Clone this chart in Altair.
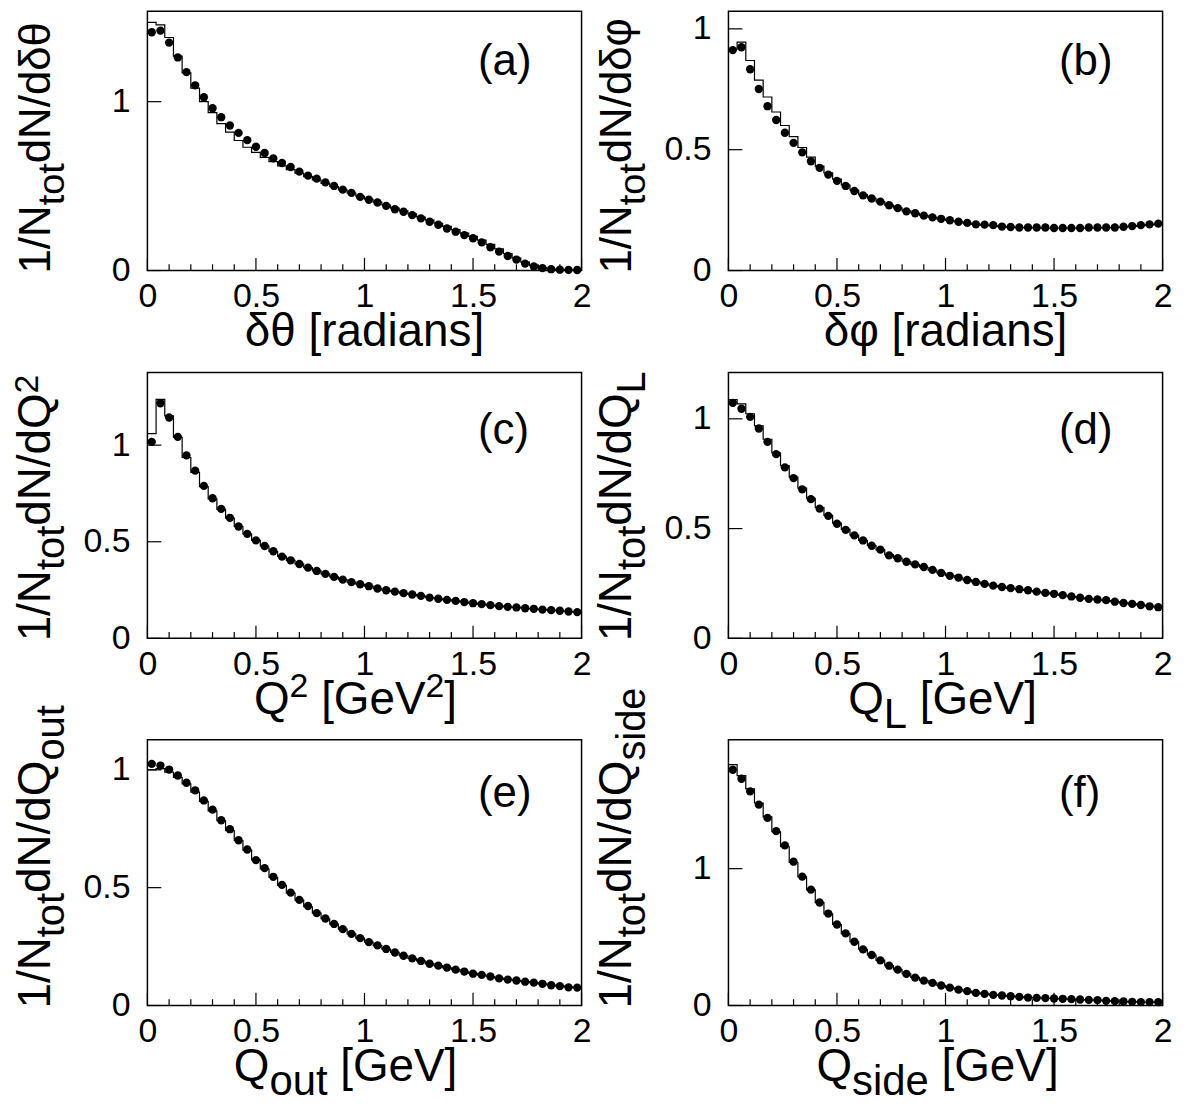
import altair as alt
import pandas as pd

FONT = "Liberation Sans"

# ---------------- binning ----------------
N_BINS = 50
X_MIN, X_MAX = 0.0, 2.0
BIN_W = (X_MAX - X_MIN) / N_BINS
centers = [round(X_MIN + BIN_W * (i + 0.5), 4) for i in range(N_BINS)]
edges = [round(X_MIN + BIN_W * i, 4) for i in range(N_BINS + 1)]

X_MAJOR = [0, 0.5, 1, 1.5, 2]
X_MINOR = [0.1, 0.2, 0.3, 0.4, 0.6, 0.7, 0.8, 0.9, 1.1, 1.2, 1.3, 1.4, 1.6, 1.7, 1.8, 1.9]

# ---------------- data ----------------
a_pts = [1.411, 1.421, 1.350, 1.262, 1.175, 1.097, 1.026, 0.961, 0.908, 0.859,
         0.815, 0.772, 0.733, 0.696, 0.664, 0.637, 0.613, 0.586, 0.562, 0.544,
         0.522, 0.501, 0.479, 0.460, 0.436, 0.419, 0.403, 0.383, 0.363, 0.348,
         0.328, 0.309, 0.289, 0.271, 0.249, 0.230, 0.210, 0.191, 0.167, 0.138,
         0.112, 0.086, 0.065, 0.041, 0.024, 0.014, 0.008, 0.005, 0.004, 0.003]
a_hist = [1.470, 1.455, 1.380, 1.270, 1.170, 1.080, 1.000, 0.935, 0.870, 0.820,
          0.770, 0.730, 0.700, 0.670, 0.645, 0.620, 0.598, 0.577, 0.556, 0.536,
          0.516, 0.497, 0.478, 0.459, 0.440, 0.422, 0.405, 0.388, 0.370, 0.353,
          0.335, 0.317, 0.299, 0.280, 0.261, 0.242, 0.222, 0.202, 0.180, 0.155,
          0.128, 0.100, 0.074, 0.050, 0.030, 0.016, 0.008, 0.004, 0.002, 0.001]

b_pts = [0.912, 0.924, 0.833, 0.751, 0.680, 0.623, 0.570, 0.528, 0.489, 0.452,
         0.425, 0.397, 0.371, 0.350, 0.329, 0.311, 0.298, 0.285, 0.270, 0.258,
         0.245, 0.237, 0.227, 0.220, 0.214, 0.208, 0.202, 0.197, 0.191, 0.190,
         0.188, 0.182, 0.180, 0.178, 0.178, 0.178, 0.178, 0.176, 0.176, 0.176,
         0.176, 0.178, 0.178, 0.178, 0.178, 0.181, 0.184, 0.188, 0.191, 0.194]
b_hist = [0.915, 0.945, 0.869, 0.788, 0.718, 0.656, 0.600, 0.554, 0.509, 0.469,
          0.432, 0.404, 0.378, 0.354, 0.333, 0.314, 0.299, 0.285, 0.271, 0.259,
          0.247, 0.238, 0.228, 0.220, 0.213, 0.207, 0.201, 0.196, 0.191, 0.188,
          0.185, 0.182, 0.180, 0.178, 0.177, 0.176, 0.175, 0.175, 0.175, 0.175,
          0.175, 0.176, 0.176, 0.177, 0.178, 0.180, 0.183, 0.186, 0.189, 0.192]

c_pts = [1.017, 1.217, 1.143, 1.043, 0.947, 0.868, 0.789, 0.725, 0.670, 0.624,
         0.579, 0.541, 0.507, 0.478, 0.451, 0.423, 0.404, 0.385, 0.366, 0.349,
         0.334, 0.318, 0.304, 0.291, 0.280, 0.270, 0.258, 0.249, 0.242, 0.234,
         0.227, 0.220, 0.211, 0.205, 0.199, 0.194, 0.188, 0.182, 0.177, 0.172,
         0.167, 0.163, 0.160, 0.156, 0.153, 0.149, 0.146, 0.143, 0.139, 0.136]
c_hist = [1.060, 1.237, 1.151, 1.040, 0.936, 0.859, 0.785, 0.722, 0.668, 0.622,
          0.579, 0.541, 0.507, 0.478, 0.450, 0.424, 0.404, 0.385, 0.366, 0.349,
          0.334, 0.318, 0.304, 0.291, 0.280, 0.270, 0.258, 0.249, 0.242, 0.234,
          0.227, 0.220, 0.211, 0.205, 0.199, 0.194, 0.188, 0.182, 0.177, 0.172,
          0.167, 0.163, 0.160, 0.156, 0.153, 0.149, 0.146, 0.143, 0.139, 0.136]

d_pts = [1.073, 1.046, 1.009, 0.956, 0.895, 0.839, 0.779, 0.730, 0.679, 0.634,
         0.591, 0.558, 0.522, 0.494, 0.469, 0.446, 0.422, 0.404, 0.378, 0.365,
         0.349, 0.337, 0.325, 0.312, 0.298, 0.285, 0.277, 0.266, 0.257, 0.248,
         0.240, 0.234, 0.229, 0.224, 0.219, 0.213, 0.207, 0.203, 0.197, 0.191,
         0.185, 0.180, 0.177, 0.174, 0.167, 0.161, 0.157, 0.152, 0.146, 0.142]
d_hist = [1.088, 1.068, 1.023, 0.968, 0.907, 0.845, 0.787, 0.734, 0.684, 0.638,
          0.596, 0.560, 0.525, 0.496, 0.470, 0.446, 0.423, 0.403, 0.381, 0.366,
          0.350, 0.337, 0.324, 0.311, 0.298, 0.286, 0.276, 0.266, 0.257, 0.248,
          0.240, 0.234, 0.228, 0.223, 0.218, 0.212, 0.207, 0.202, 0.196, 0.190,
          0.185, 0.180, 0.176, 0.172, 0.167, 0.162, 0.157, 0.152, 0.147, 0.142]

e_pts = [1.025, 1.018, 1.001, 0.976, 0.945, 0.913, 0.870, 0.831, 0.786, 0.748,
         0.701, 0.662, 0.617, 0.583, 0.546, 0.512, 0.479, 0.448, 0.422, 0.392,
         0.369, 0.346, 0.324, 0.304, 0.286, 0.269, 0.255, 0.240, 0.225, 0.211,
         0.200, 0.189, 0.177, 0.169, 0.161, 0.152, 0.144, 0.135, 0.130, 0.123,
         0.115, 0.110, 0.106, 0.101, 0.097, 0.092, 0.086, 0.082, 0.077, 0.076]
e_hist = [1.000, 1.005, 0.990, 0.968, 0.940, 0.905, 0.866, 0.826, 0.784, 0.742,
          0.700, 0.659, 0.618, 0.580, 0.544, 0.510, 0.477, 0.447, 0.419, 0.392,
          0.368, 0.345, 0.324, 0.304, 0.286, 0.269, 0.254, 0.239, 0.225, 0.212,
          0.200, 0.189, 0.178, 0.169, 0.160, 0.152, 0.144, 0.136, 0.129, 0.123,
          0.116, 0.111, 0.106, 0.101, 0.097, 0.092, 0.087, 0.083, 0.079, 0.076]

f_pts = [1.723, 1.657, 1.565, 1.468, 1.371, 1.274, 1.170, 1.051, 0.942, 0.847,
         0.753, 0.672, 0.592, 0.527, 0.466, 0.410, 0.369, 0.330, 0.291, 0.262,
         0.231, 0.204, 0.182, 0.165, 0.146, 0.131, 0.116, 0.105, 0.092, 0.085,
         0.078, 0.073, 0.068, 0.063, 0.058, 0.056, 0.054, 0.051, 0.049, 0.047,
         0.044, 0.041, 0.039, 0.034, 0.032, 0.029, 0.027, 0.025, 0.025, 0.025]
f_hist = [1.760, 1.680, 1.583, 1.480, 1.378, 1.270, 1.160, 1.045, 0.940, 0.845,
          0.752, 0.670, 0.592, 0.526, 0.466, 0.411, 0.369, 0.330, 0.292, 0.262,
          0.232, 0.205, 0.183, 0.165, 0.147, 0.131, 0.117, 0.105, 0.093, 0.085,
          0.078, 0.073, 0.068, 0.063, 0.058, 0.056, 0.053, 0.051, 0.049, 0.047,
          0.044, 0.041, 0.039, 0.035, 0.032, 0.029, 0.027, 0.025, 0.025, 0.025]

# axis ranges / tick labels
y_max = {"a": 1.535, "b": 1.0725, "c": 1.376, "d": 1.211, "e": 1.128, "f": 1.943}
y_ticks = {"a": [0, 1], "b": [0, 0.5, 1], "c": [0, 0.5, 1], "d": [0, 0.5, 1],
           "e": [0, 0.5, 1], "f": [0, 1]}
panel_labels = {"a": "(a)", "b": "(b)", "c": "(c)", "d": "(d)", "e": "(e)", "f": "(f)"}

# titles: (text, kind) kind = n (normal) / sub / sup
x_titles = {
    "a": [("δθ [radians]", "n")],
    "b": [("δφ [radians]", "n")],
    "c": [("Q", "n"), ("2", "sup"), (" [GeV", "n"), ("2", "sup"), ("]", "n")],
    "d": [("Q", "n"), ("L", "sub"), (" [GeV]", "n")],
    "e": [("Q", "n"), ("out", "sub"), (" [GeV]", "n")],
    "f": [("Q", "n"), ("side", "sub"), (" [GeV]", "n")],
}
x_title_shift = {"a": 0, "b": 0, "c": -9, "d": -3, "e": -19, "f": -8}
y_titles = {
    "a": [("1/N", "n"), ("tot", "sub"), ("dN/dδθ", "n")],
    "b": [("1/N", "n"), ("tot", "sub"), ("dN/dδφ", "n")],
    "c": [("1/N", "n"), ("tot", "sub"), ("dN/dQ", "n"), ("2", "sup")],
    "d": [("1/N", "n"), ("tot", "sub"), ("dN/dQ", "n"), ("L", "sub")],
    "e": [("1/N", "n"), ("tot", "sub"), ("dN/dQ", "n"), ("out", "sub")],
    "f": [("1/N", "n"), ("tot", "sub"), ("dN/dQ", "n"), ("side", "sub")],
}

# ---------------- styling ----------------
PLOT_W = 436
ROW_H = [260.3, 267, 267]
FS_LABEL = 34
FS_PANEL = 44
# (normal, sub, sup) font sizes for titles
X_FS = (46, 42, 34)
Y_FS_ROW = [(44, 38, 33), (46, 40, 34), (46, 40, 34)]
SUB_D = 14
SUP_D_Y = -12
SUP_D_X = -17
YT_X = -98
LABEL_Y = [50.8, 59, 55]

ADV = {'1': 556, '/': 278, 'N': 722, 'd': 556, 'Q': 778, 't': 278, 'o': 556, 'u': 556,
       's': 500, 'i': 222, 'e': 556, 'L': 556, '2': 556, ' ': 278, '[': 278, ']': 278,
       'G': 778, 'V': 667, 'r': 333, 'a': 556, 'n': 556, 'δ': 556, 'θ': 556, 'φ': 650}


def text_w(s, fs):
    return sum(ADV.get(ch, 556) for ch in s) / 1000.0 * fs


def seg_font(kind, fs3):
    return fs3[{"n": 0, "sub": 1, "sup": 2}[kind]]


def text_layer(txt, x, y, fs, angle=0, align="left", baseline="alphabetic"):
    mk = dict(align=align, baseline=baseline, font=FONT, fontSize=fs, color="black")
    if angle:
        mk["angle"] = angle
    return alt.Chart(pd.DataFrame({"t": [txt]})).mark_text(**mk).encode(
        text="t:N", x=alt.value(x), y=alt.value(y))


def panel(key, pts, hist, H, label_y, left_col, y_fs):
    xs = alt.Scale(domain=[X_MIN, X_MAX], nice=False, zero=False)
    ys = alt.Scale(domain=[0, y_max[key]], nice=False, zero=False)
    xaxis = alt.Axis(values=X_MAJOR, format="~g", labelFont=FONT, labelFontSize=FS_LABEL,
                     labelColor="black", labelPadding=9, ticks=False, tickSize=0,
                     domain=False, grid=False, title=None, labelFlush=False,
                     labelOverlap=False, labelBound=False)
    yaxis = alt.Axis(values=y_ticks[key], format="~g", labelFont=FONT, labelFontSize=FS_LABEL,
                     labelColor="black", labelPadding=17.5, ticks=False, tickSize=0,
                     domain=False, grid=False, title=None, labelFlush=False,
                     labelOverlap=False, labelBound=False)
    X = lambda f: alt.X(f"{f}:Q", scale=xs, axis=xaxis)
    Y = lambda f: alt.Y(f"{f}:Q", scale=ys, axis=yaxis)

    df_hist = pd.DataFrame({"x": edges, "y": hist + [hist[-1]]})
    df_pts = pd.DataFrame({"x": centers, "y": pts})

    layers = [
        alt.Chart(df_hist).mark_line(interpolate="step-after", color="black",
                                     strokeWidth=1.2).encode(x=X("x"), y=Y("y")),
        alt.Chart(df_pts).mark_circle(size=70, color="black", opacity=1).encode(
            x=X("x"), y=Y("y")),
        alt.Chart(pd.DataFrame({"x": X_MAJOR})).mark_rule(color="black", strokeWidth=1.2).encode(
            x=X("x"), y=alt.value(H), y2=alt.value(H - 12.7)),
        alt.Chart(pd.DataFrame({"x": X_MINOR})).mark_rule(color="black", strokeWidth=1.2).encode(
            x=X("x"), y=alt.value(H), y2=alt.value(H - 6.3)),
        alt.Chart(pd.DataFrame({"y": y_ticks[key]})).mark_rule(color="black", strokeWidth=1.2).encode(
            y=Y("y"), x=alt.value(0), x2=alt.value(14)),
        text_layer(panel_labels[key], 332, label_y, FS_PANEL, baseline="middle"),
    ]

    # x title (centered, chained segments)
    segs = x_titles[key]
    total = sum(text_w(t, seg_font(k, X_FS)) for t, k in segs)
    cx = PLOT_W / 2 - total / 2 + x_title_shift[key]
    base = H + 76
    for t, k in segs:
        fs = seg_font(k, X_FS)
        stripped = t.lstrip(" ")
        lead = text_w(t[:len(t) - len(stripped)], fs)
        dy = {"n": 0, "sub": SUB_D, "sup": SUP_D_X}[k]
        layers.append(text_layer(stripped, cx + lead, base + dy, fs))
        cx += text_w(t, fs)

    # y title (rotated, starting at the bottom)
    segs = y_titles[key]
    cy = H + 3
    for t, k in segs:
        fs = seg_font(k, y_fs)
        dx = {"n": 0, "sub": SUB_D, "sup": SUP_D_Y}[k]
        layers.append(text_layer(t, YT_X + dx, cy, fs, angle=270))
        cy -= text_w(t, fs)

    if left_col:
        layers.append(alt.Chart(pd.DataFrame({"a": [0]})).mark_rule(strokeOpacity=0).encode(
            x=alt.value(-138.3), y=alt.value(0), y2=alt.value(H)))

    return alt.layer(*layers).properties(width=PLOT_W, height=H)


panels = []
data = {"a": (a_pts, a_hist), "b": (b_pts, b_hist), "c": (c_pts, c_hist),
        "d": (d_pts, d_hist), "e": (e_pts, e_hist), "f": (f_pts, f_hist)}
for i, key in enumerate(["a", "b", "c", "d", "e", "f"]):
    row = i // 2
    pts, hist = data[key]
    panels.append(panel(key, pts, hist, ROW_H[row], LABEL_Y[row], i % 2 == 0, Y_FS_ROW[row]))

chart = alt.concat(*panels, columns=2, spacing={"row": 101.7, "column": 147.5}).properties(
    bounds="flush",
    padding={"top": 0, "left": 0, "right": 10, "bottom": 5},
    background="white",
).configure_view(stroke="black", strokeWidth=1.5)

chart.save("out.html", embed_options={"renderer": "svg", "actions": False})
